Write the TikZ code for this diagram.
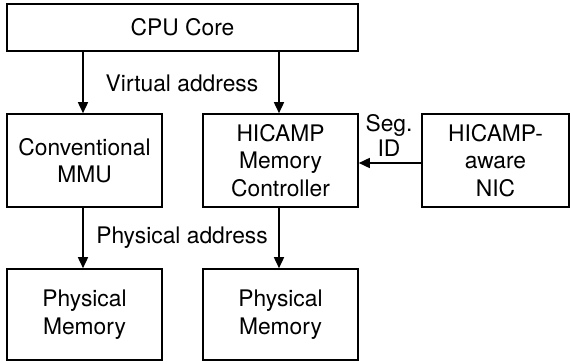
\documentclass[tikz,border=0pt]{standalone}
\usepackage{fontspec}
\setmainfont{TeX Gyre Heros}
\usetikzlibrary{arrows.meta}
\begin{document}
\begin{tikzpicture}[x=1pt,y=-1pt,
  blk/.style={draw,line width=1.6pt,rectangle,align=center,inner sep=0pt,
    font=\fontsize{22.8}{27.5}\selectfont},
  lbl/.style={align=center,inner sep=0pt,font=\fontsize{22.8}{25}\selectfont},
  arr/.style={line width=1.6pt,-{Triangle[length=11pt,width=10pt]}}]
\useasboundingbox (0,0) rectangle (571,364);
\node[blk,minimum width=351pt,minimum height=47pt] (cpu) at (182.5,27.5) {CPU Core};
\node[blk,minimum width=155pt,minimum height=93pt] (mmu) at (84.5,160.5) {Conventional\\MMU};
\node[blk,minimum width=155pt,minimum height=93pt] (hmc) at (280.5,160.5) {HICAMP\\Memory\\Controller};
\node[blk,minimum width=147pt,minimum height=93pt] (nic) at (495.5,160.5) {HICAMP-\\aware\\NIC};
\node[blk,minimum width=155pt,minimum height=91pt] (pm1) at (84.5,314.5) {Physical\\Memory};
\node[blk,minimum width=155pt,minimum height=91pt] (pm2) at (280.5,314.5) {Physical\\Memory};
\node[lbl] (va) at (182,83) {Virtual address};
\node[lbl] (pa) at (182,238) {Physical address};
\node[lbl] (seg) at (389,135) {Seg.\\ID};
\coordinate (c1) at (83,0);
\coordinate (c2) at (279,0);
\draw[arr] (cpu.south -| c1) -- (mmu.north -| c1);
\draw[arr] (cpu.south -| c2) -- (hmc.north -| c2);
\draw[arr] (mmu.south -| c1) -- (pm1.north -| c1);
\draw[arr] (hmc.south -| c2) -- (pm2.north -| c2);
\coordinate (c3) at (0,163);
\draw[arr] (nic.west |- c3) -- (hmc.east |- c3);
\end{tikzpicture}
\end{document}
